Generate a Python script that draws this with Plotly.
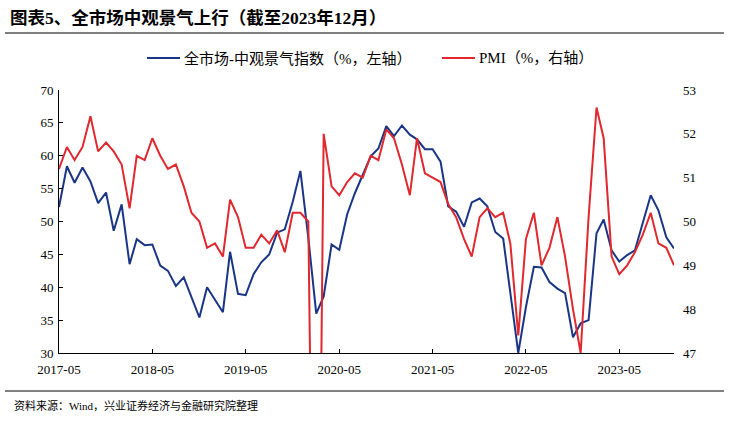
import plotly.graph_objects as go
import pandas as pd

months = pd.date_range("2017-05-01", "2023-12-01", freq="MS")

meso_index = [52.2, 58.4, 55.9, 58.2, 56.1, 52.8, 54.4, 48.6, 52.6, 43.5,
              47.3, 46.4, 46.5, 43.3, 42.5, 40.2, 41.5, 38.6, 35.4, 40.0,
              38.2, 36.2, 45.4, 39.0, 38.8, 42.0, 43.8, 45.0, 48.3, 48.8,
              53.0, 57.7, 47.5, 36.0, 38.6, 46.5, 45.7, 51.1, 54.3, 57.1,
              59.9, 61.1, 64.5, 63.0, 64.6, 63.2, 62.5, 61.0, 61.0, 59.1,
              52.3, 51.5, 49.2, 52.9, 53.5, 52.3, 48.4, 47.4, 38.8, 30.0,
              37.0, 43.1, 43.0, 40.8, 39.8, 39.1, 32.4, 34.5, 35.0, 48.2,
              50.3, 45.6, 43.9, 44.9, 45.6, 49.7, 54.0, 51.7, 47.6, 45.9]

pmi = [51.2, 51.7, 51.4, 51.7, 52.4, 51.6, 51.8, 51.6, 51.3, 50.3,
       51.5, 51.4, 51.9, 51.5, 51.2, 51.3, 50.8, 50.2, 50.0, 49.4,
       49.5, 49.2, 50.5, 50.1, 49.4, 49.4, 49.7, 49.5, 49.8, 49.3,
       50.2, 50.2, 50.0, 35.7, 52.0, 50.8, 50.6, 50.9, 51.1, 51.0,
       51.5, 51.4, 52.1, 51.9, 51.3, 50.6, 51.9, 51.1, 51.0, 50.9,
       50.4, 50.1, 49.6, 49.2, 50.1, 50.3, 50.1, 50.2, 49.5, 47.4,
       49.6, 50.2, 49.0, 49.4, 50.1, 49.2, 48.0, 47.0, 50.1, 52.6,
       51.9, 49.2, 48.8, 49.0, 49.3, 49.7, 50.2, 49.5, 49.4, 49.0]

left_ticks = [30, 35, 40, 45, 50, 55, 60, 65, 70]
right_ticks = [47, 48, 49, 50, 51, 52, 53]

title_text = "图表5、全市场中观景气上行（截至2023年12月）"
legend_left = "全市场-中观景气指数（%，左轴）"
legend_right = "PMI（%，右轴）"
source_text = "资料来源：Wind，兴业证券经济与金融研究院整理"

BLUE = "#1a3585"
RED = "#e0282e"
FONT = "Liberation Serif, Noto Sans CJK SC, serif"

fig = go.Figure()
fig.add_trace(go.Scatter(x=months, y=meso_index, mode="lines", name=legend_left,
                         line=dict(color=BLUE, width=2), yaxis="y", showlegend=False))
fig.add_trace(go.Scatter(x=months, y=pmi, mode="lines", name=legend_right,
                         line=dict(color=RED, width=2), yaxis="y2", showlegend=False))

L, R, T, B = 59, 674, 90, 353
W, H = R - L, B - T

def px(x):
    return (x - L) / W

def py(y):
    return (B - y) / H

fig.update_layout(
    width=729, height=421,
    margin=dict(l=L, r=729 - R, t=T, b=421 - B),
    paper_bgcolor="white", plot_bgcolor="white",
    font=dict(family=FONT, size=13, color="black"),
    xaxis=dict(type="date", range=[months[0], months[-1]],
               tick0="2017-05-01", dtick="M12", tickformat="%Y-%m",
               showgrid=False, zeroline=False, showline=True, linecolor="black",
               linewidth=1, ticks="inside", ticklen=4, tickcolor="black",
               ticklabelstandoff=4,
               tickfont=dict(family=FONT, size=13)),
    yaxis=dict(range=[30, 70], tickvals=left_ticks, showgrid=False, zeroline=False,
               showline=True, linecolor="black", linewidth=1, ticks="inside",
               ticklen=4, tickcolor="black", ticklabelstandoff=2,
               tickfont=dict(family=FONT, size=13)),
    yaxis2=dict(range=[47, 53], tickvals=right_ticks, overlaying="y", side="right",
                showgrid=False, zeroline=False, showline=False, ticks="",
                ticklabelstandoff=8,
                tickfont=dict(family=FONT, size=13)),
)

shapes = [
    dict(type="line", xref="paper", yref="paper", x0=px(5), x1=px(724),
         y0=py(33), y1=py(33), line=dict(color="black", width=1)),
    dict(type="line", xref="paper", yref="paper", x0=px(5), x1=px(724),
         y0=py(391), y1=py(391), line=dict(color="black", width=1)),
    dict(type="line", xref="paper", yref="paper", x0=px(147), x1=px(180),
         y0=py(58), y1=py(58), line=dict(color=BLUE, width=2)),
    dict(type="line", xref="paper", yref="paper", x0=px(442), x1=px(475),
         y0=py(58), y1=py(58), line=dict(color=RED, width=2)),
]
fig.update_layout(shapes=shapes)

ann = [
    dict(text="<b>" + title_text + "</b>", x=px(8), y=py(18), xref="paper", yref="paper",
         xanchor="left", yanchor="middle", showarrow=False,
         font=dict(family=FONT, size=17.5, color="black")),
    dict(text=legend_left, x=px(182), y=py(58), xref="paper", yref="paper",
         xanchor="left", yanchor="middle", showarrow=False,
         font=dict(family=FONT, size=15, color="black")),
    dict(text=legend_right, x=px(477), y=py(58), xref="paper", yref="paper",
         xanchor="left", yanchor="middle", showarrow=False,
         font=dict(family=FONT, size=15, color="black")),
    dict(text=source_text, x=px(12), y=py(405), xref="paper", yref="paper",
         xanchor="left", yanchor="middle", showarrow=False,
         font=dict(family=FONT, size=11, color="black")),
]
fig.update_layout(annotations=ann)

fig.write_html("out.html")
